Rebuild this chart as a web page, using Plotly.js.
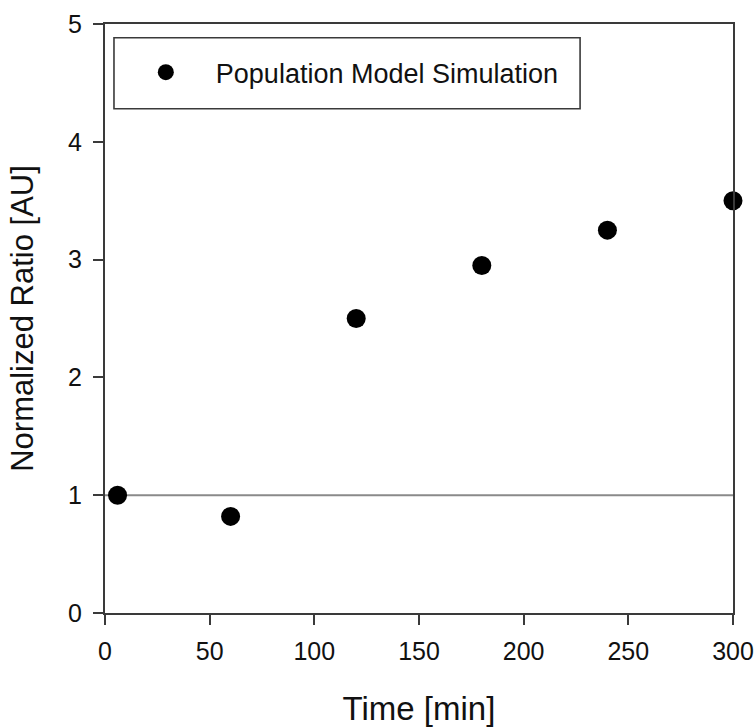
<!DOCTYPE html>
<html>
<head>
<meta charset="utf-8">
<script src="https://cdn.plot.ly/plotly-3.0.1.min.js"></script>
<style>html,body{margin:0;padding:0;background:#fff;}#chart{width:756px;height:727px;}</style>
</head>
<body>
<div id="chart"></div>
<script>
// Data
const timeMin = [6, 60, 120, 180, 240, 300];
const normalizedRatio = [1.0, 0.82, 2.5, 2.95, 3.25, 3.5];
const seriesName = "Population Model Simulation";
const refLineX = [0, 300];
const refLineY = [1, 1];
const xTickVals = [0, 50, 100, 150, 200, 250, 300];
const yTickVals = [0, 1, 2, 3, 4, 5];

const FONT = "Arial, 'Liberation Sans', sans-serif";
const AXC = "#3a3a3a";

const traces = [
  {
    x: refLineX, y: refLineY, mode: "lines", type: "scatter",
    line: {color: "#8a8a8a", width: 2}, showlegend: false, hoverinfo: "skip"
  },
  {
    x: timeMin, y: normalizedRatio, mode: "markers", type: "scatter",
    name: "\u00a0\u00a0\u00a0\u00a0" + seriesName,
    marker: {color: "#000", size: 19, line: {width: 0}},
    cliponaxis: false
  }
];

const layout = {
  width: 756, height: 727,
  margin: {l: 105, r: 23, t: 24, b: 114, pad: 0},
  paper_bgcolor: "#fff", plot_bgcolor: "#fff",
  font: {family: FONT, color: "#111", size: 25},
  showlegend: true,
  legend: {
    x: 0.065, y: 0.959, xanchor: "left", yanchor: "top",
    bgcolor: "rgba(0,0,0,0)", borderwidth: 0,
    font: {family: FONT, size: 27, color: "#111"}
  },
  shapes: [{
    type: "rect", xref: "paper", yref: "paper",
    x0: 0.0143, x1: 0.7565, y0: 0.856, y1: 0.9766,
    line: {color: AXC, width: 1.6}, fillcolor: "rgba(0,0,0,0)", layer: "above"
  }],
  xaxis: {
    range: [0, 300], tickvals: xTickVals, ticks: "outside", ticklen: 10, tickwidth: 2,
    tickcolor: AXC, showline: true, linecolor: AXC, linewidth: 2, mirror: true,
    showgrid: false, zeroline: false, tickfont: {size: 25, family: FONT, color: "#111"},
    ticklabelstandoff: 5,
    title: {text: "Time [min]", font: {size: 33, family: FONT, color: "#111"}, standoff: 35},
    automargin: false
  },
  yaxis: {
    range: [0, 5], tickvals: yTickVals, ticks: "outside", ticklen: 10, tickwidth: 2,
    tickcolor: AXC, showline: true, linecolor: AXC, linewidth: 2, mirror: true,
    showgrid: false, zeroline: false, tickfont: {size: 25, family: FONT, color: "#111"},
    ticklabelstandoff: 6,
    title: {text: "Normalized Ratio [AU]", font: {size: 31, family: FONT, color: "#111"}, standoff: 25},
    automargin: false
  }
};

Plotly.newPlot("chart", traces, layout, {displayModeBar: false, staticPlot: true});
</script>
</body>
</html>
